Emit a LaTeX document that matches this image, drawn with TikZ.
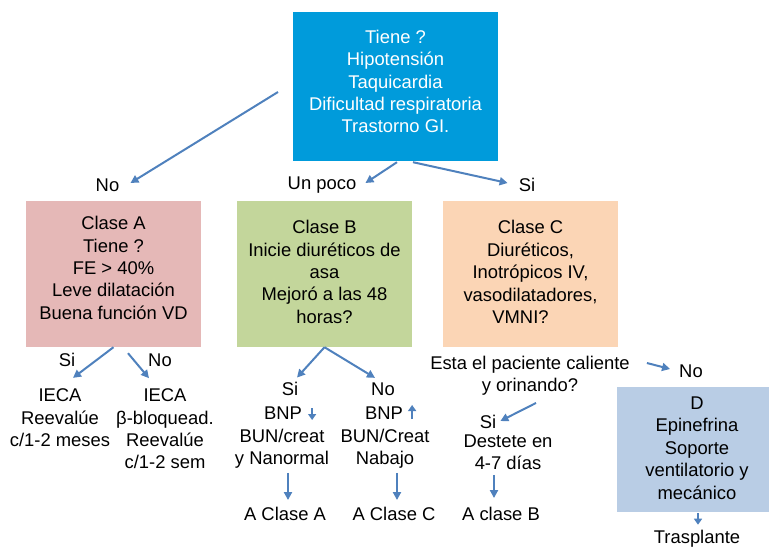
\documentclass[tikz,border=0pt]{standalone}
\usepackage{fontspec}
\setmainfont{Liberation Sans}
\usepackage{xcolor}
\usetikzlibrary{arrows.meta,calc}

\definecolor{qblue}{RGB}{0,155,219}
\definecolor{apink}{RGB}{229,184,183}
\definecolor{bgreen}{RGB}{195,214,155}
\definecolor{cpeach}{RGB}{251,213,181}
\definecolor{dblue}{RGB}{185,205,229}
\definecolor{arrblue}{RGB}{79,129,189}

\begin{document}
\begin{tikzpicture}[
    x=1pt, y=-1pt,
    every node/.style={font=\fontsize{18.4}{22.4}\selectfont, inner sep=0pt, align=center},
    box/.style={minimum width=175pt, minimum height=146pt},
    arr/.style={-{Triangle[length=8pt,width=8pt]}, line width=2pt, arrblue},
    tick/.style={-{Triangle[length=6pt,width=8pt]}, line width=2pt, arrblue},
  ]
  \useasboundingbox (0,0) rectangle (769,547);

  % Question box
  \node[box, fill=qblue, minimum width=205pt, minimum height=149pt] (tiene) at (395.5,86.5) {};
  \node[text=white] (tienetxt) at ($(tiene.center)+(0,-5)$) {Tiene ?\\Hipotensión\\Taquicardia\\Dificultad respiratoria\\Trastorno GI.};

  % First answers
  \coordinate (tail) at (278,92);
  \node (no) at (107.5,185) {No};
  \node (poco) at (322,185) {Un poco};
  \node (si) at (527,185) {Si};
  \draw[arr] (tail) -- ($(no.east)+(11,-2)$);
  \draw[arr] ($(tiene.south)+(1.5,1)$) -- ($(poco.east)+(9,-2)$);
  \draw[arr] ($(tiene.south)+(17.5,1)$) -- ($(si.west)+(-11,-2)$);

  % Class boxes
  \node[box, fill=apink] (claseA) at (113.5,274) {};
  \node (claseAtxt) at ($(claseA.center)+(0,-6)$) {Clase A\\Tiene ?\\FE > 40\%\\Leve dilatación\\Buena función VD};
  \node[box, fill=bgreen] (claseB) at (324.5,274) {};
  \node (claseBtxt) at ($(claseB.center)+(0,-2)$) {Clase B\\Inicie diuréticos de\\asa\\Mejoró a las 48\\horas?};
  \node[box, fill=cpeach] (claseC) at (530.5,274) {};
  \node (claseCtxt) at ($(claseC.center)+(0,-2)$) {Clase C\\Diuréticos,\\Inotrópicos IV,\\vasodilatadores,\\VMNI?\hspace*{20pt}};

  % Clase A outcomes
  \node (siA) at (67,360) {Si};
  \node (noA) at (160,360) {No};
  \node (iecaSi) at (60,418) {IECA\\Reevalúe\\c/1-2 meses};
  \node (iecaNo) at (165,429) {IECA\\β-bloquead.\\Reevalúe\\c/1-2 sem};
  \draw[arr] (claseA.south) -- ($(iecaSi.north)+(13,-11)$);
  \draw[arr] ($(claseA.south)+(14.5,6)$) -- ($(iecaNo.north)+(-16,-10.5)$);

  % Clase B outcomes
  \node (siB) at (290,389) {Si};
  \node (noB) at (383,389) {No};
  \draw[arr] (claseB.south) -- ($(siB.north)+(7,-4.5)$);
  \draw[arr] (claseB.south) -- ($(noB.north)+(-8,-4.5)$);
  \node (bnpSi) at (283,413) {BNP};
  \draw[tick] ($(bnpSi.east)+(10,-5)$) -- ($(bnpSi.east)+(10,7)$);
  \node (bunSi) at (282,449) {BUN/creat\\y Nanormal};
  \node (aClaseA) at (285,514) {A Clase A};
  \draw[arr] ($(bunSi.south)+(6,4)$) -- ($(aClaseA.north)+(3,-7)$);
  \node (bnpNo) at (384,413) {BNP};
  \draw[tick] ($(bnpNo.east)+(9,6)$) -- ($(bnpNo.east)+(9,-8)$);
  \node (bunNo) at (385,449) {BUN/Creat\\Nabajo};
  \node (aClaseC) at (394,514) {A Clase C};
  \draw[arr] ($(bunNo.south)+(12,4)$) -- ($(aClaseC.north)+(3,-7)$);

  % Clase C outcomes
  \node (caliente) at (530,376) {Esta el paciente caliente\\y orinando?};
  \node (noC) at (691,371) {No};
  \node (siC) at (488,422) {Si};
  \draw[arr] ($(caliente.east)+(17,-13)$) -- ($(noC.west)+(-9,-2)$);
  \draw[arr] ($(caliente.south)+(6,7)$) -- ($(siC.east)+(4,-1)$);
  \node (destete) at (508,452) {Destete en\\4-7 días};
  \node (aClaseB) at (501,514) {A clase B};
  \draw[arr] ($(destete.south)+(-14,5)$) -- ($(aClaseB.north)+(-7,-9)$);

  % D box
  \node[box, fill=dblue, minimum width=152pt, minimum height=125pt] (claseD) at (693,449.5) {};
  \node (claseDtxt) at (697,448) {D\\Epinefrina\\Soporte\\ventilatorio y\\mecánico};
  \node (trasplante) at (697,538.5) {Trasplante};
  \draw[tick] ($(claseD.south)+(5,1)$) -- ($(trasplante.north)+(1,-5)$);

\end{tikzpicture}
\end{document}
